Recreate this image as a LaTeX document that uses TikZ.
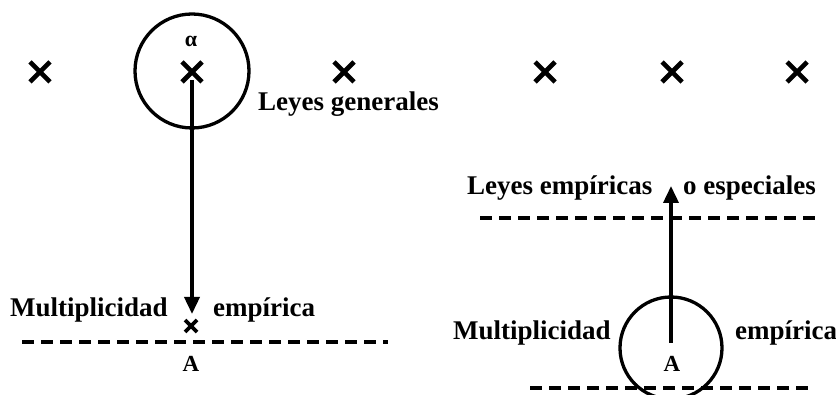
\documentclass[tikz,border=0pt]{standalone}
\usepackage{fontspec}
\setmainfont{Liberation Serif}
\usetikzlibrary{arrows.meta}
\begin{document}
\begin{tikzpicture}[x=1pt,y=-1pt,
  lbl/.style={font=\fontsize{27}{31}\selectfont\bfseries, inner sep=0pt, anchor=base west},
  letter/.style={font=\fontsize{23}{27}\selectfont\bfseries, inner sep=0pt, anchor=base},
  ring/.style={draw, line width=3.3pt},
  dashline/.style={line width=3.6pt, dash pattern=on 12pt off 7pt},
  arrowline/.style={line width=3.6pt, -{Triangle[width=15pt,length=17pt]}},
  bigx/.pic={\draw[line width=4.6pt] (-10,-10)--(10,10) (-10,10)--(10,-10);},
  smallx/.pic={\draw[line width=3.6pt] (-6,-6)--(6,6) (-6,6)--(6,-6);}
]
\useasboundingbox (0,0) rectangle (836,395);

% ---------- left panel ----------
\coordinate (l1) at (40,72);
\coordinate (l2) at (192,72);
\coordinate (l3) at (344,72);
\pic at (l1) {bigx};
\pic at (l2) {bigx};
\pic at (l3) {bigx};
\draw[ring] (192,71) circle[radius=57];
\node[font=\fontsize{22}{26}\selectfont\bfseries, inner sep=0pt] (alpha) at (191,41) {α};
\node[lbl] (lgen) at (258,111) {Leyes generales};

\coordinate (ltop) at (192,80);
\coordinate (lbot) at (192,314);
\draw[arrowline] (ltop) -- (lbot);
\coordinate (lA) at (191,326);
\pic at (lA) {smallx};
\node[lbl] (lmult) at (10,317) {Multiplicidad};
\node[lbl] (lemp) at (213,317) {empírica};
\coordinate (ld1) at (22,342);
\coordinate (ld2) at (388,342);
\draw[dashline] (ld1) -- (ld2);
\node[letter] (lAlbl) at (191,372) {A};

% ---------- right panel ----------
\coordinate (r1) at (545,72);
\coordinate (r2) at (672,72);
\coordinate (r3) at (797,72);
\pic at (r1) {bigx};
\pic at (r2) {bigx};
\pic at (r3) {bigx};
\node[lbl] (remp) at (467,195) {Leyes empíricas};
\node[lbl] (resp) at (683,195) {o especiales};
\coordinate (rd1) at (480,218);
\coordinate (rd2) at (815,218);
\draw[dashline] (rd1) -- (rd2);

\coordinate (rbot) at (671,343);
\coordinate (rtop) at (671,186);
\draw[arrowline] (rbot) -- (rtop);
\draw[ring] (671,348) circle[radius=51];
\node[lbl] (rmult) at (453,340) {Multiplicidad};
\node[lbl] (rempi) at (735,340) {empírica};
\node[letter] (rAlbl) at (672,372) {A};
\coordinate (rd3) at (530,388);
\coordinate (rd4) at (810,388);
\draw[dashline] (rd3) -- (rd4);
\end{tikzpicture}
\end{document}
